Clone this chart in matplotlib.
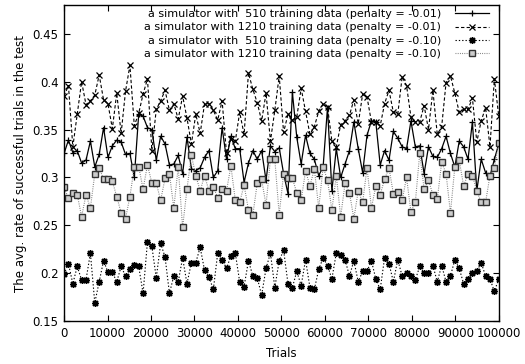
import numpy as np
import matplotlib
matplotlib.use("Agg")
import matplotlib.pyplot as plt

# trials: 100 evaluation points from 0 to 100000
trials = np.linspace(0, 100000, 100)

# a simulator with 510 training data (penalty = -0.01)
sim510_p001 = [
    0.325, 0.339, 0.326, 0.328, 0.315, 0.318, 0.338, 0.311, 0.324, 0.352, 0.321, 0.333, 0.339, 0.337, 0.324, 0.325, 0.300,
    0.366, 0.364, 0.352, 0.350, 0.318, 0.343, 0.335, 0.313, 0.314, 0.323, 0.304, 0.342, 0.309, 0.307, 0.310, 0.321, 0.328,
    0.300, 0.307, 0.352, 0.319, 0.343, 0.330, 0.330, 0.295, 0.315, 0.328, 0.319, 0.328, 0.297, 0.333, 0.327, 0.331, 0.304,
    0.283, 0.389, 0.342, 0.314, 0.344, 0.325, 0.319, 0.302, 0.311, 0.373, 0.286, 0.330, 0.300, 0.314, 0.328, 0.358, 0.330,
    0.305, 0.344, 0.359, 0.358, 0.313, 0.328, 0.318, 0.348, 0.341, 0.332, 0.330, 0.359, 0.332, 0.333, 0.304, 0.332,
    0.322, 0.321, 0.330, 0.343, 0.325, 0.311, 0.338, 0.332, 0.319, 0.358, 0.286, 0.319, 0.305, 0.301, 0.319, 0.335,
]

# a simulator with 1210 training data (penalty = -0.01)
sim1210_p001 = [
    0.385, 0.396, 0.332, 0.366, 0.400, 0.376, 0.380, 0.386, 0.407, 0.381, 0.377, 0.351, 0.388, 0.346, 0.390, 0.417, 0.354,
    0.367, 0.387, 0.403, 0.328, 0.371, 0.380, 0.391, 0.370, 0.377, 0.361, 0.385, 0.362, 0.335, 0.366, 0.346, 0.377, 0.377,
    0.370, 0.360, 0.380, 0.325, 0.340, 0.338, 0.368, 0.345, 0.409, 0.392, 0.378, 0.359, 0.388, 0.338, 0.370, 0.406, 0.347,
    0.366, 0.360, 0.363, 0.393, 0.369, 0.345, 0.353, 0.369, 0.377, 0.374, 0.338, 0.332, 0.355, 0.359, 0.365, 0.381, 0.356,
    0.387, 0.384, 0.358, 0.358, 0.354, 0.377, 0.391, 0.368, 0.366, 0.405, 0.396, 0.363, 0.358, 0.358, 0.375, 0.350,
    0.391, 0.345, 0.353, 0.399, 0.406, 0.388, 0.368, 0.371, 0.371, 0.383, 0.337, 0.359, 0.373, 0.332, 0.403, 0.364,
]

# a simulator with 510 training data (penalty = -0.10)
sim510_p010 = [
    0.199, 0.210, 0.189, 0.207, 0.193, 0.193, 0.221, 0.169, 0.191, 0.213, 0.201, 0.201, 0.191, 0.207, 0.197, 0.204, 0.209,
    0.207, 0.179, 0.233, 0.228, 0.195, 0.231, 0.217, 0.179, 0.197, 0.191, 0.216, 0.189, 0.211, 0.211, 0.227, 0.203, 0.196,
    0.183, 0.221, 0.214, 0.205, 0.218, 0.221, 0.191, 0.186, 0.213, 0.197, 0.195, 0.177, 0.205, 0.221, 0.185, 0.213, 0.224,
    0.189, 0.185, 0.202, 0.187, 0.214, 0.185, 0.183, 0.204, 0.216, 0.208, 0.194, 0.221, 0.219, 0.214, 0.197, 0.213, 0.191,
    0.202, 0.202, 0.213, 0.194, 0.183, 0.216, 0.210, 0.191, 0.214, 0.197, 0.200, 0.197, 0.193, 0.207, 0.200, 0.200,
    0.208, 0.191, 0.208, 0.191, 0.197, 0.214, 0.205, 0.189, 0.194, 0.200, 0.202, 0.211, 0.197, 0.194, 0.181, 0.194,
]

# a simulator with 1210 training data (penalty = -0.10)
sim1210_p010 = [
    0.290, 0.278, 0.284, 0.282, 0.259, 0.282, 0.268, 0.304, 0.310, 0.298, 0.298, 0.296, 0.280, 0.263, 0.257, 0.280, 0.311,
    0.311, 0.288, 0.313, 0.294, 0.294, 0.276, 0.299, 0.304, 0.268, 0.311, 0.248, 0.288, 0.323, 0.302, 0.286, 0.302, 0.286,
    0.290, 0.279, 0.288, 0.286, 0.312, 0.276, 0.274, 0.292, 0.266, 0.261, 0.294, 0.298, 0.271, 0.319, 0.319, 0.261, 0.304,
    0.299, 0.299, 0.284, 0.276, 0.307, 0.291, 0.309, 0.268, 0.311, 0.297, 0.266, 0.302, 0.259, 0.294, 0.284, 0.257, 0.286,
    0.274, 0.310, 0.268, 0.291, 0.282, 0.298, 0.310, 0.283, 0.285, 0.276, 0.300, 0.264, 0.274, 0.325, 0.288, 0.297,
    0.282, 0.277, 0.316, 0.304, 0.263, 0.311, 0.318, 0.291, 0.304, 0.302, 0.286, 0.274, 0.274, 0.302, 0.310, 0.336,
]

labels = [
    "a simulator with  510 training data (penalty = -0.01)",
    "a simulator with 1210 training data (penalty = -0.01)",
    "a simulator with  510 training data (penalty = -0.10)",
    "a simulator with 1210 training data (penalty = -0.10)",
]

xticks = [0, 10000, 20000, 30000, 40000, 50000, 60000, 70000, 80000, 90000, 100000]
yticks = [0.15, 0.2, 0.25, 0.3, 0.35, 0.4, 0.45]
ytick_labels = ["0.15", "0.2", "0.25", "0.3", "0.35", "0.4", "0.45"]

plt.rcParams['font.family'] = ['DejaVu Sans']

fig = plt.figure(figsize=(5.25, 3.64), dpi=100)
ax = fig.add_axes([0.122, 0.118, 0.828, 0.868])

ax.plot(trials, sim510_p001, color='black', lw=0.9, ls='-',
        marker='+', ms=5, mew=0.9, label=labels[0])
ax.plot(trials, sim1210_p001, color='black', lw=0.8, ls=(0, (3, 2)),
        marker='x', ms=4, mew=0.9, label=labels[1])
ax.plot(trials, sim510_p010, color='black', lw=0.8, ls=(0, (1.2, 1.8)),
        marker=(8, 2, 0), ms=5, mew=1.0, label=labels[2])
ax.plot(trials, sim1210_p010, color='#777777', lw=0.8, ls=(0, (0.8, 1.2)),
        marker='s', ms=4.5, mew=1.0, mfc='#cccccc', mec='#333333', label=labels[3])

ax.set_xlim(0, 100000)
ax.set_ylim(0.15, 0.48)
ax.set_xticks(xticks)
ax.set_xticklabels([str(t) for t in xticks])
ax.set_yticks(yticks)
ax.set_yticklabels(ytick_labels)
ax.tick_params(direction='in', length=4, width=0.8, top=True, right=True,
               labelsize=8.5, pad=4)
for s in ax.spines.values():
    s.set_linewidth(1.0)

ax.set_xlabel("Trials", fontsize=8.5, labelpad=5)
ax.set_ylabel("The avg. rate of successful trials in the test", fontsize=8.5, labelpad=4)

leg = ax.legend(loc='upper right', bbox_to_anchor=(0.995, 1.012), frameon=False,
                markerfirst=False, fontsize=8, handlelength=3.0,
                labelspacing=0.3, handletextpad=1.3, borderpad=0.2)

fig.savefig("out.png", dpi=100)
